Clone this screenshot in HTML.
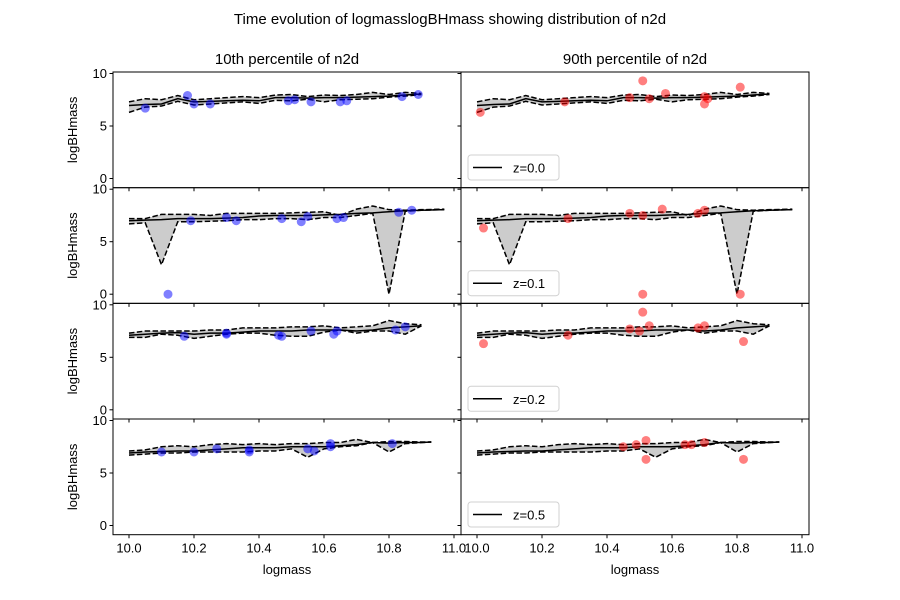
<!DOCTYPE html>
<html><head><meta charset="utf-8"><style>body{margin:0;background:#fff}svg{display:block;font-family:"Liberation Sans","DejaVu Sans",sans-serif}</style></head>
<body>
<svg id="c" width="900" height="600" viewBox="0 0 900 600">
<rect width="900" height="600" fill="#fff"/>
<text x="450" y="24" text-anchor="middle" font-size="15">Time evolution of logmasslogBHmass showing distribution of n2d</text>
<text x="287" y="64" text-anchor="middle" font-size="15">10th percentile of n2d</text>
<text x="635" y="64" text-anchor="middle" font-size="15">90th percentile of n2d</text>
<text x="287" y="574" text-anchor="middle" font-size="13">logmass</text>
<text x="635" y="574" text-anchor="middle" font-size="13">logmass</text>
</svg>
<script>
const redshifts=["z=0.0","z=0.1","z=0.2","z=0.5"];
const xTicks=[10.0,10.2,10.4,10.6,10.8,11.0];
const yTicks=[0,5,10];
const bx1=[10.0,10.05,10.1,10.15,10.2,10.25,10.3,10.35,10.4,10.45,10.5,10.55,10.6,10.65,10.7,10.75,10.8,10.85,10.9];
const bx2=[10.0,10.05,10.1,10.15,10.2,10.25,10.3,10.35,10.4,10.45,10.5,10.55,10.6,10.65,10.7,10.75,10.8,10.85,10.9,10.97];
const bx3=[10.0,10.05,10.1,10.15,10.2,10.25,10.3,10.35,10.4,10.45,10.5,10.55,10.6,10.65,10.7,10.75,10.8,10.85,10.9];
const bx4=[10.0,10.05,10.1,10.15,10.2,10.25,10.3,10.35,10.4,10.45,10.5,10.55,10.6,10.65,10.7,10.75,10.8,10.85,10.9,10.93];
const med1=[6.95,7.05,7.1,7.6,7.3,7.35,7.4,7.45,7.4,7.7,7.7,7.65,7.7,7.7,7.75,7.8,7.85,7.95,8.05];
const hi1=[7.3,7.6,7.5,7.9,7.5,7.6,7.7,7.8,7.7,7.95,8.0,7.8,7.95,7.9,8.0,8.2,8.0,8.2,8.1];
const lo1=[6.3,6.8,6.9,7.35,7.0,7.1,7.2,7.3,7.15,7.45,7.4,7.55,7.3,7.5,7.55,7.6,7.75,7.85,8.0];
const med2=[7.0,7.05,7.1,7.2,7.2,7.2,7.25,7.3,7.45,7.5,7.5,7.5,7.55,7.6,7.7,7.75,7.85,7.95,8.0,8.05];
const hi2=[7.2,7.2,7.6,7.6,7.6,7.5,7.7,7.7,7.7,7.7,7.75,7.8,7.85,7.5,8.1,8.4,8.05,8.0,8.05,8.1];
const lo2=[6.7,6.8,2.8,6.9,6.9,6.95,7.0,7.1,7.1,7.2,7.2,7.1,7.3,7.3,7.5,7.7,0.0,7.9,8.0,8.05];
const med3=[7.1,7.2,7.3,7.35,7.2,7.3,7.3,7.4,7.5,7.5,7.5,7.6,7.6,7.6,7.5,7.6,7.8,7.9,8.0];
const hi3=[7.3,7.5,7.5,7.5,7.5,7.6,7.6,7.8,7.8,7.8,7.9,7.9,8.0,7.8,7.9,8.0,8.5,8.2,8.1];
const lo3=[6.9,6.9,7.2,7.1,6.8,7.0,7.2,7.3,7.3,7.1,7.0,7.0,7.4,7.6,7.3,7.5,7.5,7.2,8.0];
const med4=[6.9,7.0,7.05,7.1,7.1,7.2,7.3,7.4,7.4,7.4,7.5,7.5,7.5,7.6,7.7,7.9,7.85,7.9,7.9,7.95];
const hi4=[7.1,7.2,7.5,7.6,7.5,7.7,7.8,7.7,7.8,7.7,7.8,7.8,7.9,7.9,8.2,7.9,8.0,8.0,7.95,7.95];
const lo4=[6.7,6.8,6.9,6.9,7.0,7.0,7.0,7.0,7.1,7.1,7.3,6.5,7.3,7.5,7.6,7.9,7.0,7.8,7.9,7.95];
const p10x1=[10.05,10.18,10.2,10.25,10.49,10.51,10.56,10.65,10.67,10.84,10.89];
const p10y1=[6.7,7.9,7.1,7.1,7.4,7.5,7.3,7.3,7.4,7.8,8.0];
const p10x2=[10.12,10.19,10.3,10.33,10.47,10.53,10.55,10.64,10.66,10.83,10.87];
const p10y2=[0.0,7.0,7.3,7.0,7.2,6.9,7.4,7.2,7.3,7.8,8.0];
const p10x3=[10.17,10.3,10.3,10.46,10.47,10.56,10.63,10.64,10.82,10.85];
const p10y3=[7.0,7.3,7.2,7.1,7.0,7.5,7.2,7.5,7.6,7.9];
const p10x4=[10.1,10.2,10.27,10.37,10.37,10.55,10.57,10.62,10.62,10.81];
const p10y4=[7.0,7.0,7.3,7.0,7.2,7.3,7.1,7.5,7.8,7.8];
const p90x1=[10.01,10.27,10.51,10.47,10.53,10.58,10.7,10.71,10.7,10.81];
const p90y1=[6.3,7.3,9.3,7.7,7.6,8.1,7.8,7.6,7.1,8.7];
const p90x2=[10.02,10.28,10.47,10.51,10.57,10.68,10.7,10.51,10.81];
const p90y2=[6.3,7.2,7.7,7.5,8.1,7.7,8.0,0.0,0.0];
const p90x3=[10.02,10.28,10.51,10.47,10.5,10.53,10.68,10.7,10.82];
const p90y3=[6.3,7.1,9.3,7.7,7.5,8.0,7.8,8.0,6.5];
const p90x4=[10.45,10.49,10.52,10.52,10.64,10.66,10.7,10.82];
const p90y4=[7.5,7.7,8.1,6.3,7.7,7.7,7.9,6.3];

const BX=[bx1,bx2,bx3,bx4],MED=[med1,med2,med3,med4],HI=[hi1,hi2,hi3,hi4],LO=[lo1,lo2,lo3,lo4];
const PX=[[p10x1,p90x1],[p10x2,p90x2],[p10x3,p90x3],[p10x4,p90x4]];
const PY=[[p10y1,p90y1],[p10y2,p90y2],[p10y3,p90y3],[p10y4,p90y4]];
const NS="http://www.w3.org/2000/svg",svg=document.getElementById('c');
function mk(t,a,p){const e=document.createElementNS(NS,t);for(const k in a)e.setAttribute(k,a[k]);(p||svg).appendChild(e);return e;}
const colL=[113,461],W=348,rowT=[72,187.7,303.3,419],H=115.7;
function sx(c,v){return colL[c]+16+(v-10)*325;}
function sy(r,v){return rowT[r]+106.5-v*10.5;}
for(let r=0;r<4;r++)for(let c=0;c<2;c++){
  const g=mk('g',{});
  
  
  const xs=BX[r],md=MED[r],hi=HI[r],lo=LO[r];
  let d='';xs.forEach((x,i)=>d+=(i?'L':'M')+sx(c,x)+','+sy(r,hi[i]));
  for(let i=xs.length-1;i>=0;i--)d+='L'+sx(c,xs[i])+','+sy(r,lo[i]);
  const band=mk('path',{d:d+'Z',fill:'#cccccc',stroke:'none'},g);
  
  
  [[hi,'upper-bound-line'],[lo,'lower-bound-line']].forEach(([arr,nm])=>{
    let p='';xs.forEach((x,i)=>p+=(i?'L':'M')+sx(c,x)+','+sy(r,arr[i]));
    const l=mk('path',{d:p,fill:'none',stroke:'#000','stroke-width':1.5,'stroke-dasharray':'5.5,2.4'},g);
    
    
  });
  let p='';xs.forEach((x,i)=>p+=(i?'L':'M')+sx(c,x)+','+sy(r,md[i]));
  const ml=mk('path',{d:p,fill:'none',stroke:'#000','stroke-width':1.5},g);
  
  
  const ptx=PX[r][c],pty=PY[r][c];
  ptx.forEach((x,i)=>{
    const pt=mk('circle',{cx:sx(c,x),cy:sy(r,pty[i]),r:4.5,fill:c?'#ff0000':'#0000ff','fill-opacity':0.5},g);
    
    
  });
  const fr=mk('rect',{x:colL[c],y:rowT[r],width:W,height:H,fill:'none',stroke:'#000','stroke-width':1},g);
  
  
  yTicks.forEach(v=>{
    const y=sy(r,v);
    const tk=mk('line',{x1:colL[c]-3.5,x2:colL[c],y1:y,y2:y,stroke:'#000'},g);
    
    
    if(c===0){const t=mk('text',{x:colL[c]-6,y:y+4.5,'text-anchor':'end','font-size':13},g);t.textContent=v;
      
      }
  });
  if(c===0){const yl=mk('text',{x:0,y:0,transform:'translate(77,'+(rowT[r]+H/2)+') rotate(-90)','text-anchor':'middle','font-size':13},g);yl.textContent='logBHmass';
    
    }
  else{
    const lg=mk('g',{},g);
    
    
    const ly=rowT[r]+83;
    mk('rect',{x:468,y:ly,width:91,height:25,rx:3,fill:'#fff',stroke:'#d0d0d0'},lg);
    mk('line',{x1:473,x2:502,y1:ly+12.5,y2:ly+12.5,stroke:'#000','stroke-width':1.5},lg);
    const lt=mk('text',{x:513,y:ly+17.5,'font-size':13},lg);lt.textContent=redshifts[r];
    
    
  }
  xTicks.forEach(v=>{
    const x=sx(c,v),yb=rowT[r]+H;
    const tk=mk('line',{x1:x,x2:x,y1:yb,y2:yb+3.5,stroke:'#000'},g);
    
    
    if(r===3){const t=mk('text',{x:x,y:yb+18,'text-anchor':'middle','font-size':13},g);t.textContent=v.toFixed(1);
      
      }
  });
}
</script>
</body></html>
